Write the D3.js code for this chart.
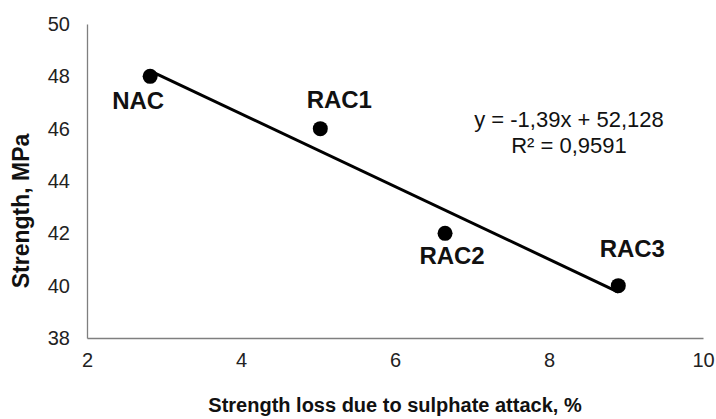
<!DOCTYPE html>
<html>
<head>
    <meta charset="utf-8">
    <title>Strength vs sulphate loss</title>
    <script src="https://d3js.org/d3.v7.min.js"></script>
    <style>
        html, body { margin: 0; padding: 0; background: #fff; overflow: hidden; }
        svg { display: block; }
        text { font-family: Arial, "Liberation Sans", sans-serif; }
    </style>
</head>
<body>
    <svg width="716" height="419" id="chart"></svg>
    <script>
        // data
        const names = ["NAC", "RAC1", "RAC2", "RAC3"]
        const loss = [2.82, 5.03, 6.65, 8.9]
        const strength = [48, 46, 42, 40]
        const xTicks = [2, 4, 6, 8, 10]
        const yTicks = [38, 40, 42, 44, 46, 48, 50]
        const slope = -1.39, intercept = 52.128
        const eqText = ["y = -1,39x + 52,128", "R\u00b2 = 0,9591"]

        const svg = d3.select("#chart")
        const margin = { top: 24, left: 87, right: 13, bottom: 81 }
        const innerWidth = 716 - margin.left - margin.right
        const innerHeight = 419 - margin.top - margin.bottom

        const x = d3.scaleLinear().domain([2, 10]).range([0, innerWidth])
        const y = d3.scaleLinear().domain([38, 50]).range([innerHeight, 0])

        const g = svg.append("g")
            .attr("transform", `translate(${margin.left},${margin.top})`)

        const yAxis = d3.axisLeft(y).tickValues(yTicks).tickSize(0).tickPadding(17)
        const xAxis = d3.axisBottom(x).tickValues(xTicks).tickSize(0).tickPadding(15)

        const gy = g.append("g").call(yAxis)
        const gx = g.append("g").attr("transform", `translate(0,${innerHeight})`).call(xAxis)
        ;[gx, gy].forEach(a => {
            a.attr("font-size", 20).attr("font-family", "Arial, 'Liberation Sans', sans-serif")
            a.select(".domain").attr("stroke", "#7f7f7f").attr("stroke-width", 1.3)
            a.selectAll(".tick text").attr("fill", "#222")
        })

        // trend line
        const ext = d3.extent(loss)
        g.append("line")
            .attr("x1", x(ext[0])).attr("y1", y(slope * ext[0] + intercept))
            .attr("x2", x(ext[1])).attr("y2", y(slope * ext[1] + intercept))
            .attr("stroke", "#000").attr("stroke-width", 3)

        const pts = names.map((n, i) => ({ name: n, x: loss[i], y: strength[i] }))
        g.selectAll("circle")
            .data(pts)
            .enter()
            .append("circle")
            .attr("cx", d => x(d.x))
            .attr("cy", d => y(d.y))
            .attr("r", 7.5)
            .attr("fill", "#000")

        // label offsets from each point
        const labelOff = [[-12, 33], [19, -21], [7, 31], [14, -29]]
        g.selectAll(".lbl")
            .data(pts)
            .enter()
            .append("text")
            .attr("class", "lbl")
            .attr("x", (d, i) => x(d.x) + labelOff[i][0])
            .attr("y", (d, i) => y(d.y) + labelOff[i][1])
            .attr("text-anchor", "middle")
            .style("font-size", "24px")
            .style("font-weight", "bold")
            .attr("fill", "#111")
            .text(d => d.name)

        svg.selectAll(".eq")
            .data(eqText)
            .enter()
            .append("text")
            .attr("class", "eq")
            .attr("x", 569)
            .attr("y", (d, i) => 127 + i * 26)
            .attr("text-anchor", "middle")
            .style("font-size", "22px")
            .attr("fill", "#111")
            .text(d => d)

        svg.append("text")
            .attr("x", 395)
            .attr("y", 412)
            .attr("text-anchor", "middle")
            .style("font-size", "20px")
            .style("font-weight", "bold")
            .attr("fill", "#111")
            .text("Strength loss due to sulphate attack, %")

        svg.append("text")
            .attr("transform", "translate(29,211) rotate(-90)")
            .attr("text-anchor", "middle")
            .style("font-size", "23px")
            .style("font-weight", "bold")
            .attr("fill", "#111")
            .text("Strength, MPa")
    </script>
</body>
</html>
